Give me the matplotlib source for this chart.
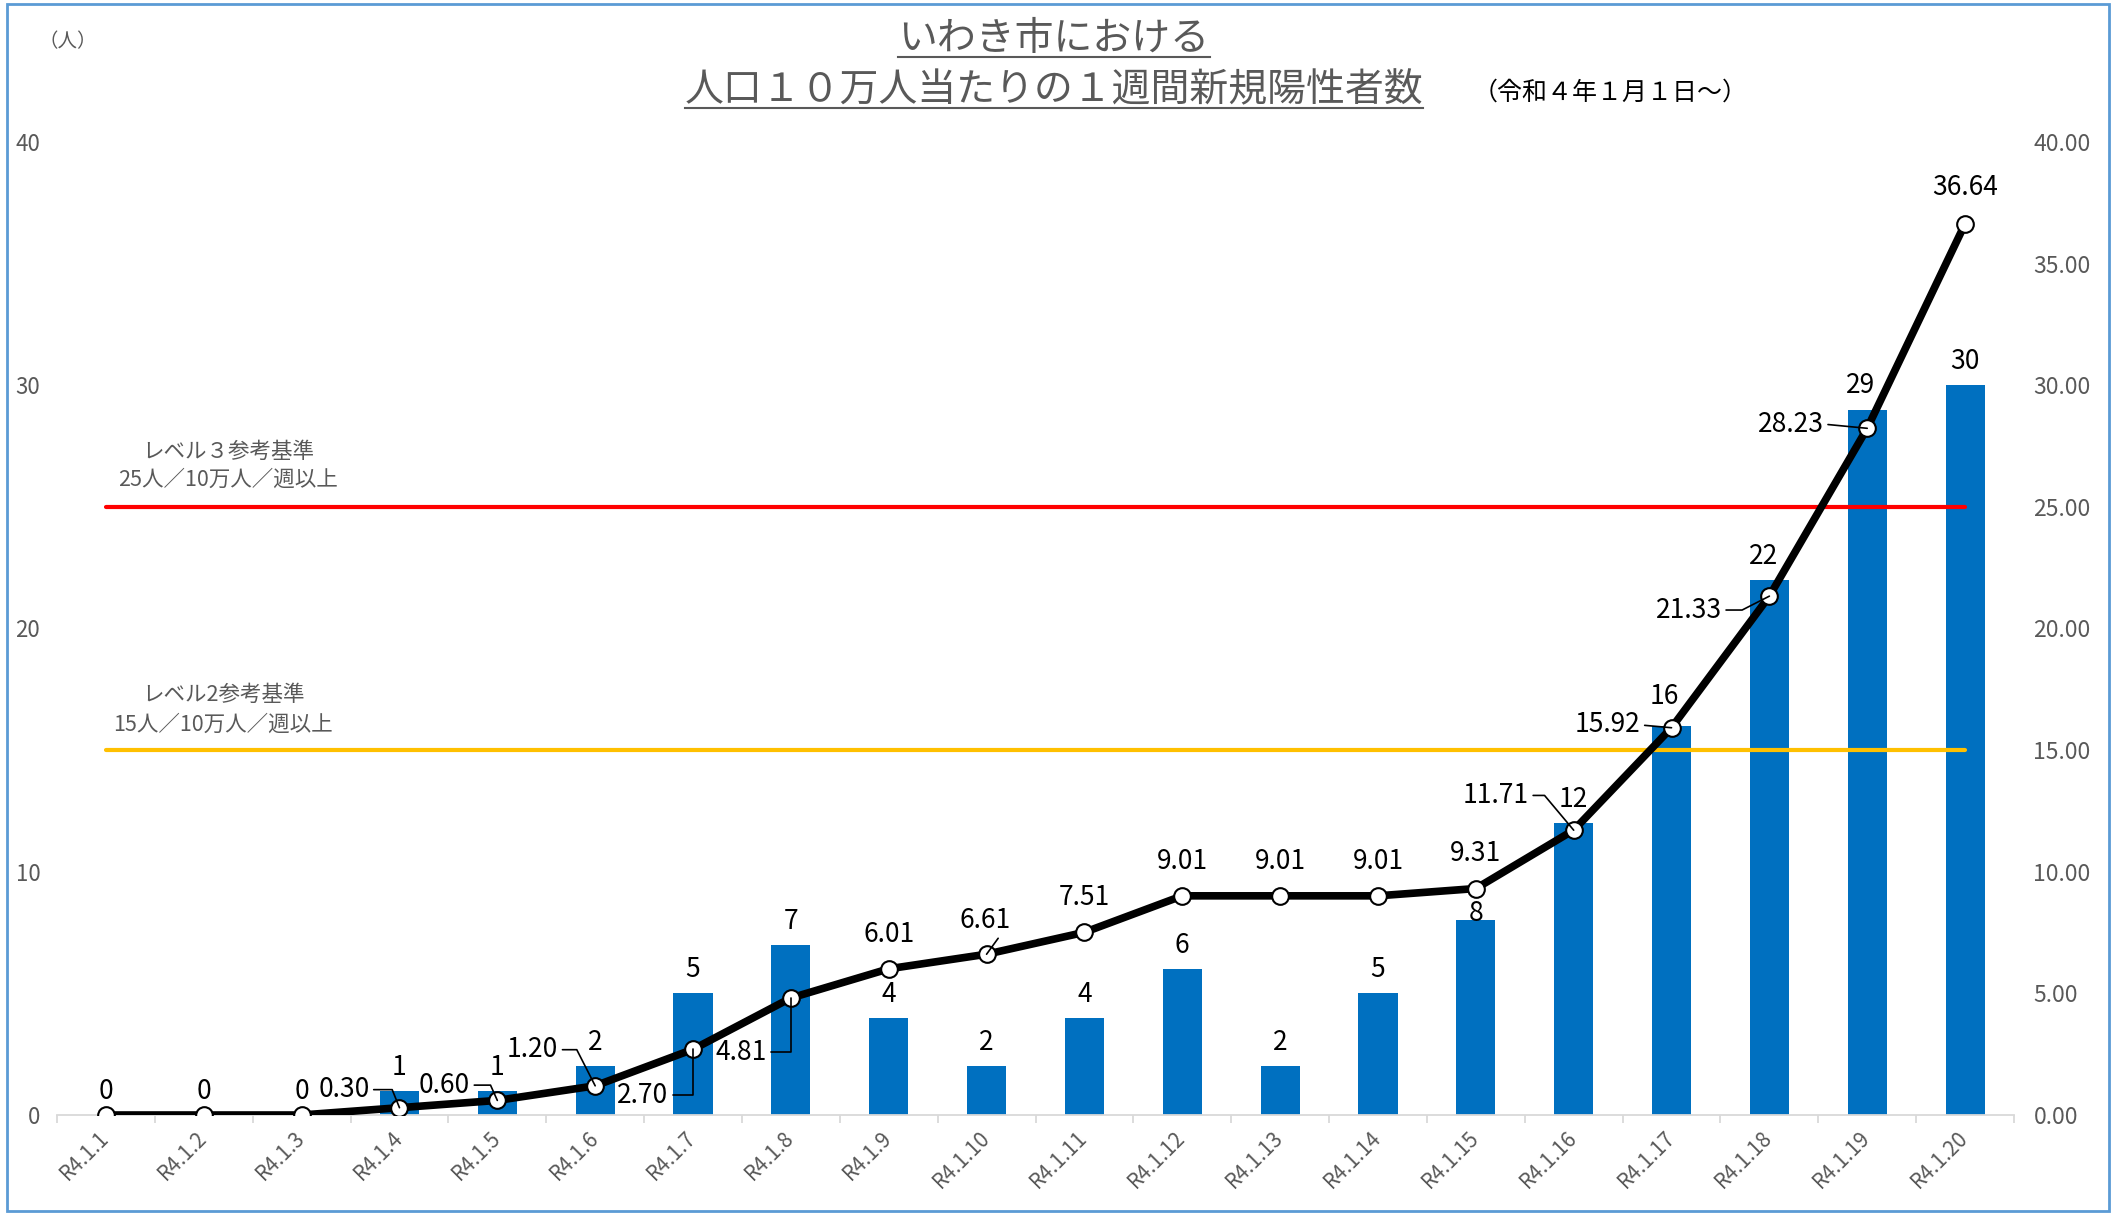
import numpy as np
import matplotlib
matplotlib.use('Agg')
import matplotlib.pyplot as plt
from matplotlib.patches import Rectangle
from matplotlib.lines import Line2D

plt.rcParams['font.family'] = ['Noto Sans CJK JP', 'DejaVu Sans']

# data
dates = ['R4.1.1', 'R4.1.2', 'R4.1.3', 'R4.1.4', 'R4.1.5', 'R4.1.6', 'R4.1.7',
         'R4.1.8', 'R4.1.9', 'R4.1.10', 'R4.1.11', 'R4.1.12', 'R4.1.13',
         'R4.1.14', 'R4.1.15', 'R4.1.16', 'R4.1.17', 'R4.1.18', 'R4.1.19',
         'R4.1.20']
new_cases = [0, 0, 0, 1, 1, 2, 5, 7, 4, 2, 4, 6, 2, 5, 8, 12, 16, 22, 29, 30]
per_100k = [0, 0, 0, 0.30, 0.60, 1.20, 2.70, 4.81, 6.01, 6.61, 7.51, 9.01,
            9.01, 9.01, 9.31, 11.71, 15.92, 21.33, 28.23, 36.64]
level3 = 25
level2 = 15
left_ticks = [0, 10, 20, 30, 40]
right_ticks = [0, 5, 10, 15, 20, 25, 30, 35, 40]

# label placement (offset points) - excel moved a few of them by hand
bar_offsets = [(0, 17)] * 14 + [(0, 5), (0, 17), (-5, 21), (-4, 17), (-5, 17),
                                (0, 17)]
rate_offsets = [None, None, None, (-40, 13), (-38, 11), (-45, 26), (-36, -33),
                (-36, -39), (0, 25), (-1, 24), (0, 25), (0, 25), (0, 25),
                (0, 25), (0, 25), (-56, 25), (-46, 2), (-58, -10), (-55, 3),
                (0, 26)]
# angle of the leader line's last leg (None = straight leader)
leader_angles = [None, None, None, 112, 114, 117, 90, 90, None, None, None,
                 None, None, None, None, 130, None, 27, None, None]

GRAY = '#595959'
W, H = 2122, 1213

fig = plt.figure(figsize=(W / 100, H / 100), dpi=100)
ax = fig.add_axes([57 / W, 1 - 1115 / H, (2014 - 57) / W, (1115 - 142) / H])
ax2 = ax.twinx()

x = np.arange(len(dates))

# bars
ax.bar(x, new_cases, width=0.4, color='#0070C0', zorder=2)
for i, n in enumerate(new_cases):
    ax.annotate(str(n), (i, n), xytext=bar_offsets[i],
                textcoords='offset points', ha='center', va='center',
                fontsize=19, color='black', zorder=4)

# reference levels
ax.plot([x[0], x[-1]], [level3, level3], color='#FF0000', lw=3,
        solid_capstyle='round', zorder=3)
ax.plot([x[0], x[-1]], [level2, level2], color='#FFC000', lw=3,
        solid_capstyle='round', zorder=3)
ax.text(1.25, 27.25, 'レベル３参考基準', ha='center', va='center',
        fontsize=15.5, color=GRAY)
ax.text(1.25, 26.1, '25人／10万人／週以上', ha='center', va='center',
        fontsize=15.5, color=GRAY)
ax.text(1.2, 17.26, 'レベル2参考基準', ha='center', va='center',
        fontsize=15.5, color=GRAY)
ax.text(1.2, 16.03, '15人／10万人／週以上', ha='center', va='center',
        fontsize=15.5, color=GRAY)

# weekly rate per 100k on the secondary axis
ax2.plot(x, per_100k, color='black', lw=5.5, solid_joinstyle='round',
         solid_capstyle='round', zorder=4)
ax2.plot(x, per_100k, 'o', ms=12, mfc='white', mec='black', mew=1.5, zorder=5)
for i, (v, off) in enumerate(zip(per_100k, rate_offsets)):
    if off is None:
        continue
    props = None
    if off[0] != 0:
        if leader_angles[i] is None:
            cs = 'arc3'
        else:
            cs = f'angle,angleA=0,angleB={leader_angles[i]},rad=0'
        props = dict(arrowstyle='-', color='black', lw=1.2, shrinkA=1,
                     shrinkB=0, relpos=(1, 0.5), connectionstyle=cs)
    ax2.annotate(f'{v:.2f}', (i, v), xytext=off, textcoords='offset points',
                 ha='center', va='center', fontsize=19, color='black',
                 arrowprops=props, zorder=6)

# axes
for a in (ax, ax2):
    a.set_xlim(-0.5, len(dates) - 0.5)
    a.set_ylim(0, 40)
    for s in a.spines.values():
        s.set_visible(False)
ax.spines['bottom'].set_visible(True)
ax.spines['bottom'].set_color('#D9D9D9')
ax.spines['bottom'].set_linewidth(1.3)

ax.set_xticks(x)
ax.set_xticklabels(dates, rotation=45, ha='right', va='center',
                   rotation_mode='anchor', fontsize=15, color=GRAY)
ax.set_xticks(np.arange(-0.5, len(dates)), minor=True)
ax.tick_params(axis='x', which='major', length=0, pad=14)
ax.tick_params(axis='x', which='minor', length=6, color='#D9D9D9', width=1.3)

ax.set_yticks(left_ticks)
ax.set_yticklabels([str(t) for t in left_ticks], fontsize=16, color=GRAY)
ax.tick_params(axis='y', length=0, pad=12)

ax2.set_yticks(right_ticks)
ax2.set_yticklabels([f'{t:.2f}' for t in right_ticks], fontsize=16.5,
                    color=GRAY)
ax2.tick_params(axis='y', length=0, pad=14)

# titles
t1 = fig.text(1054 / W, 1 - 39 / H, 'いわき市における', ha='center', va='center',
              fontsize=28, color=GRAY)
t2 = fig.text(1054 / W, 1 - 90 / H, '人口１０万人当たりの１週間新規陽性者数',
              ha='center', va='center', fontsize=28, color=GRAY)
fig.text(1610 / W, 1 - 93 / H, '（令和４年１月１日～）', ha='center',
         va='center', fontsize=18, color='black')
fig.text(68 / W, 1 - 42 / H, '（人）', ha='center', va='center', fontsize=14,
         color=GRAY)

# underline the two title lines
fig.canvas.draw()
renderer = fig.canvas.get_renderer()
for t in (t1, t2):
    bb = t.get_window_extent(renderer).transformed(fig.transFigure.inverted())
    y = bb.y0 + 2 / H
    fig.add_artist(Line2D([bb.x0, bb.x1], [y, y], transform=fig.transFigure,
                          color=GRAY, lw=1.5))

# chart border
fig.add_artist(Rectangle((7 / W, 2 / H), (2109 - 7) / W, (1210 - 3) / H,
                         transform=fig.transFigure, fill=False,
                         ec='#5B9BD5', lw=2))

fig.savefig('out.png', dpi=100)
